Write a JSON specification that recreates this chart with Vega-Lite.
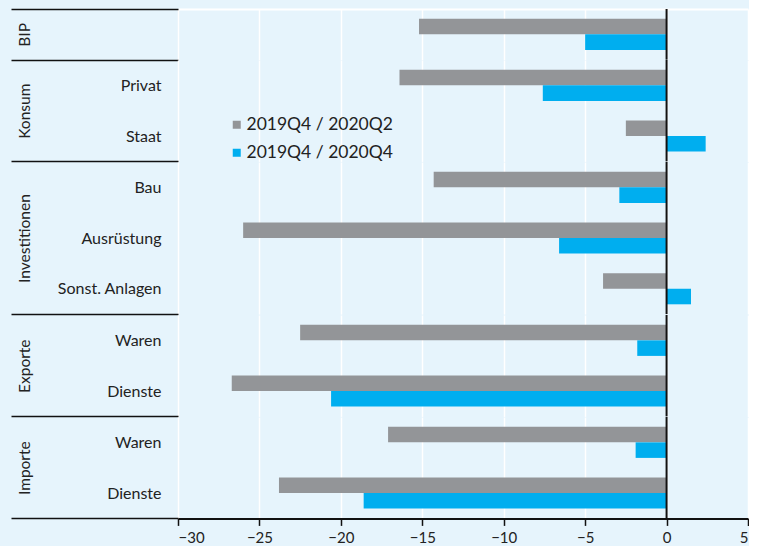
{
  "$schema": "https://vega.github.io/schema/vega-lite/v6.json",
  "background": "#e6f4fc",
  "padding": {"left": 10, "top": 8, "right": 0, "bottom": 0},
  "autosize": {"type": "pad"},
  "config": {
    "view": {"stroke": null},
    "font": "Lato",
    "axis": {"labelFont": "Lato", "titleFont": "Lato", "labelColor": "#222", "titleColor": "#222", "labelFontSize": 16, "titleFontSize": 15.5, "titleFontWeight": "normal"},
    "legend": {"labelFont": "Lato", "labelColor": "#222"}
  },
  "datasets": {
    "d": [
      {"group": "BIP", "item": "BIP", "series": "2019Q4 / 2020Q2", "value": -15.2},
      {"group": "BIP", "item": "BIP", "series": "2019Q4 / 2020Q4", "value": -5.0},
      {"group": "Konsum", "item": "Privat", "series": "2019Q4 / 2020Q2", "value": -16.4},
      {"group": "Konsum", "item": "Privat", "series": "2019Q4 / 2020Q4", "value": -7.6},
      {"group": "Konsum", "item": "Staat", "series": "2019Q4 / 2020Q2", "value": -2.5},
      {"group": "Konsum", "item": "Staat", "series": "2019Q4 / 2020Q4", "value": 2.4},
      {"group": "Investitionen", "item": "Bau", "series": "2019Q4 / 2020Q2", "value": -14.3},
      {"group": "Investitionen", "item": "Bau", "series": "2019Q4 / 2020Q4", "value": -2.9},
      {"group": "Investitionen", "item": "Ausrüstung", "series": "2019Q4 / 2020Q2", "value": -26.0},
      {"group": "Investitionen", "item": "Ausrüstung", "series": "2019Q4 / 2020Q4", "value": -6.6},
      {"group": "Investitionen", "item": "Sonst. Anlagen", "series": "2019Q4 / 2020Q2", "value": -3.9},
      {"group": "Investitionen", "item": "Sonst. Anlagen", "series": "2019Q4 / 2020Q4", "value": 1.5},
      {"group": "Exporte", "item": "Waren", "series": "2019Q4 / 2020Q2", "value": -22.5},
      {"group": "Exporte", "item": "Waren", "series": "2019Q4 / 2020Q4", "value": -1.8},
      {"group": "Exporte", "item": "Dienste", "series": "2019Q4 / 2020Q2", "value": -26.7},
      {"group": "Exporte", "item": "Dienste", "series": "2019Q4 / 2020Q4", "value": -20.6},
      {"group": "Importe", "item": "Waren", "series": "2019Q4 / 2020Q2", "value": -17.1},
      {"group": "Importe", "item": "Waren", "series": "2019Q4 / 2020Q4", "value": -1.9},
      {"group": "Importe", "item": "Dienste", "series": "2019Q4 / 2020Q2", "value": -23.8},
      {"group": "Importe", "item": "Dienste", "series": "2019Q4 / 2020Q4", "value": -18.6}
    ]
  },
  "data": {"name": "d"},
  "spacing": 0,
  "bounds": "flush",
  "resolve": {"legend": {"color": "independent"}},
  "vconcat": [
    {
      "width": 570,
      "height": {"step": 50.7, "for": "position"},
      "transform": [{"filter": "datum.group === 'BIP'"}],
      "layer": [
        {
          "mark": "bar",
          "encoding": {
            "y": {"field": "item", "type": "nominal", "sort": null, "title": "BIP",
              "scale": {"paddingInner": 0, "paddingOuter": 0},
              "axis": {"domain": false, "labels": false, "tickBand": "extent", "tickSize": 167, "tickWidth": 1.5, "tickColor": "#111", "labelPadding": -150, "titleX": -154, "titleBaseline": "middle"}},
            "yOffset": {"field": "series", "type": "nominal", "scale": {"paddingInner": 0, "paddingOuter": 0.63}},
            "x": {"field": "value", "type": "quantitative", "scale": {"domain": [-30, 5], "nice": false},
              "axis": {"orient": "top", "values": [-30, -25, -20, -15, -10, -5, 0, 5], "grid": true, "gridColor": "#ffffff", "gridWidth": 1.5, "labels": false, "ticks": false, "domain": true, "domainColor": "#ffffff", "domainWidth": 2, "title": null}},
            "color": {"field": "series", "type": "nominal", "scale": {"domain": ["2019Q4 / 2020Q2", "2019Q4 / 2020Q4"], "range": ["#939598", "#00aeef"]}, "legend": null}
          }
        },
        {
          "data": {"values": [{"zero": 0}]},
          "mark": {"type": "rule", "color": "#111", "strokeWidth": 2},
          "encoding": {"x": {"field": "zero", "type": "quantitative"}}
        }
      ]
    },
    {
      "width": 570,
      "height": {"step": 50.7, "for": "position"},
      "transform": [{"filter": "datum.group === 'Konsum'"}],
      "layer": [
        {
          "mark": "bar",
          "encoding": {
            "y": {"field": "item", "type": "nominal", "sort": null, "title": "Konsum",
              "scale": {"paddingInner": 0, "paddingOuter": 0},
              "axis": {"domain": false, "tickBand": "extent", "tickSize": 167, "tickWidth": 1.5, "tickColor": {"condition": {"test": "datum.value === 'Staat'", "value": "#111"}, "value": "transparent"}, "labelPadding": -150, "titleX": -154, "titleBaseline": "middle"}},
            "yOffset": {"field": "series", "type": "nominal", "scale": {"paddingInner": 0, "paddingOuter": 0.63}},
            "x": {"field": "value", "type": "quantitative", "scale": {"domain": [-30, 5], "nice": false},
              "axis": {"values": [-30, -25, -20, -15, -10, -5, 0, 5], "grid": true, "gridColor": "#ffffff", "gridWidth": 1.5, "labels": false, "ticks": false, "domain": false, "title": null}},
            "color": {"field": "series", "type": "nominal", "scale": {"domain": ["2019Q4 / 2020Q2", "2019Q4 / 2020Q4"], "range": ["#939598", "#00aeef"]},
              "legend": {"orient": "none", "legendX": 50, "legendY": 56, "title": null, "symbolType": "square", "symbolSize": 64, "symbolStrokeWidth": 0, "labelFontSize": 17.5, "rowPadding": 9, "padding": 0, "labelOffset": 1}}
          }
        },
        {
          "data": {"values": [{"zero": 0}]},
          "mark": {"type": "rule", "color": "#111", "strokeWidth": 2},
          "encoding": {"x": {"field": "zero", "type": "quantitative"}}
        }
      ]
    },
    {
      "width": 570,
      "height": {"step": 50.7, "for": "position"},
      "transform": [{"filter": "datum.group === 'Investitionen'"}],
      "layer": [
        {
          "mark": "bar",
          "encoding": {
            "y": {"field": "item", "type": "nominal", "sort": null, "title": "Investitionen",
              "scale": {"paddingInner": 0, "paddingOuter": 0},
              "axis": {"domain": false, "tickBand": "extent", "tickSize": 167, "tickWidth": 1.5, "tickColor": {"condition": {"test": "datum.value === 'Sonst. Anlagen'", "value": "#111"}, "value": "transparent"}, "labelPadding": -150, "titleX": -154, "titleBaseline": "middle"}},
            "yOffset": {"field": "series", "type": "nominal", "scale": {"paddingInner": 0, "paddingOuter": 0.63}},
            "x": {"field": "value", "type": "quantitative", "scale": {"domain": [-30, 5], "nice": false},
              "axis": {"values": [-30, -25, -20, -15, -10, -5, 0, 5], "grid": true, "gridColor": "#ffffff", "gridWidth": 1.5, "labels": false, "ticks": false, "domain": false, "title": null}},
            "color": {"field": "series", "type": "nominal", "scale": {"domain": ["2019Q4 / 2020Q2", "2019Q4 / 2020Q4"], "range": ["#939598", "#00aeef"]}, "legend": null}
          }
        },
        {
          "data": {"values": [{"zero": 0}]},
          "mark": {"type": "rule", "color": "#111", "strokeWidth": 2},
          "encoding": {"x": {"field": "zero", "type": "quantitative"}}
        }
      ]
    },
    {
      "width": 570,
      "height": {"step": 50.7, "for": "position"},
      "transform": [{"filter": "datum.group === 'Exporte'"}],
      "layer": [
        {
          "mark": "bar",
          "encoding": {
            "y": {"field": "item", "type": "nominal", "sort": null, "title": "Exporte",
              "scale": {"paddingInner": 0, "paddingOuter": 0},
              "axis": {"domain": false, "tickBand": "extent", "tickSize": 167, "tickWidth": 1.5, "tickColor": {"condition": {"test": "datum.value === 'Dienste'", "value": "#111"}, "value": "transparent"}, "labelPadding": -150, "titleX": -154, "titleBaseline": "middle"}},
            "yOffset": {"field": "series", "type": "nominal", "scale": {"paddingInner": 0, "paddingOuter": 0.63}},
            "x": {"field": "value", "type": "quantitative", "scale": {"domain": [-30, 5], "nice": false},
              "axis": {"values": [-30, -25, -20, -15, -10, -5, 0, 5], "grid": true, "gridColor": "#ffffff", "gridWidth": 1.5, "labels": false, "ticks": false, "domain": false, "title": null}},
            "color": {"field": "series", "type": "nominal", "scale": {"domain": ["2019Q4 / 2020Q2", "2019Q4 / 2020Q4"], "range": ["#939598", "#00aeef"]}, "legend": null}
          }
        },
        {
          "data": {"values": [{"zero": 0}]},
          "mark": {"type": "rule", "color": "#111", "strokeWidth": 2},
          "encoding": {"x": {"field": "zero", "type": "quantitative"}}
        }
      ]
    },
    {
      "width": 570,
      "height": {"step": 50.7, "for": "position"},
      "transform": [{"filter": "datum.group === 'Importe'"}],
      "layer": [
        {
          "mark": "bar",
          "encoding": {
            "y": {"field": "item", "type": "nominal", "sort": null, "title": "Importe",
              "scale": {"paddingInner": 0, "paddingOuter": 0},
              "axis": {"domain": false, "tickBand": "extent", "tickSize": 167, "tickWidth": 1.5, "tickColor": {"condition": {"test": "datum.value === 'Dienste'", "value": "#111"}, "value": "transparent"}, "labelPadding": -150, "titleX": -154, "titleBaseline": "middle"}},
            "yOffset": {"field": "series", "type": "nominal", "scale": {"paddingInner": 0, "paddingOuter": 0.63}},
            "x": {"field": "value", "type": "quantitative", "scale": {"domain": [-30, 5], "nice": false},
              "axis": {"values": [-30, -25, -20, -15, -10, -5, 0, 5], "grid": true, "gridColor": "#ffffff", "gridWidth": 1.5, "labels": true, "labelFontSize": 15, "ticks": true, "tickColor": "#111", "tickWidth": 1.5, "tickSize": 7, "labelPadding": 5, "domain": true, "domainColor": "#111", "domainWidth": 2, "title": null}},
            "color": {"field": "series", "type": "nominal", "scale": {"domain": ["2019Q4 / 2020Q2", "2019Q4 / 2020Q4"], "range": ["#939598", "#00aeef"]}, "legend": null}
          }
        },
        {
          "data": {"values": [{"zero": 0}]},
          "mark": {"type": "rule", "color": "#111", "strokeWidth": 2},
          "encoding": {"x": {"field": "zero", "type": "quantitative"}}
        }
      ]
    }
  ]
}
